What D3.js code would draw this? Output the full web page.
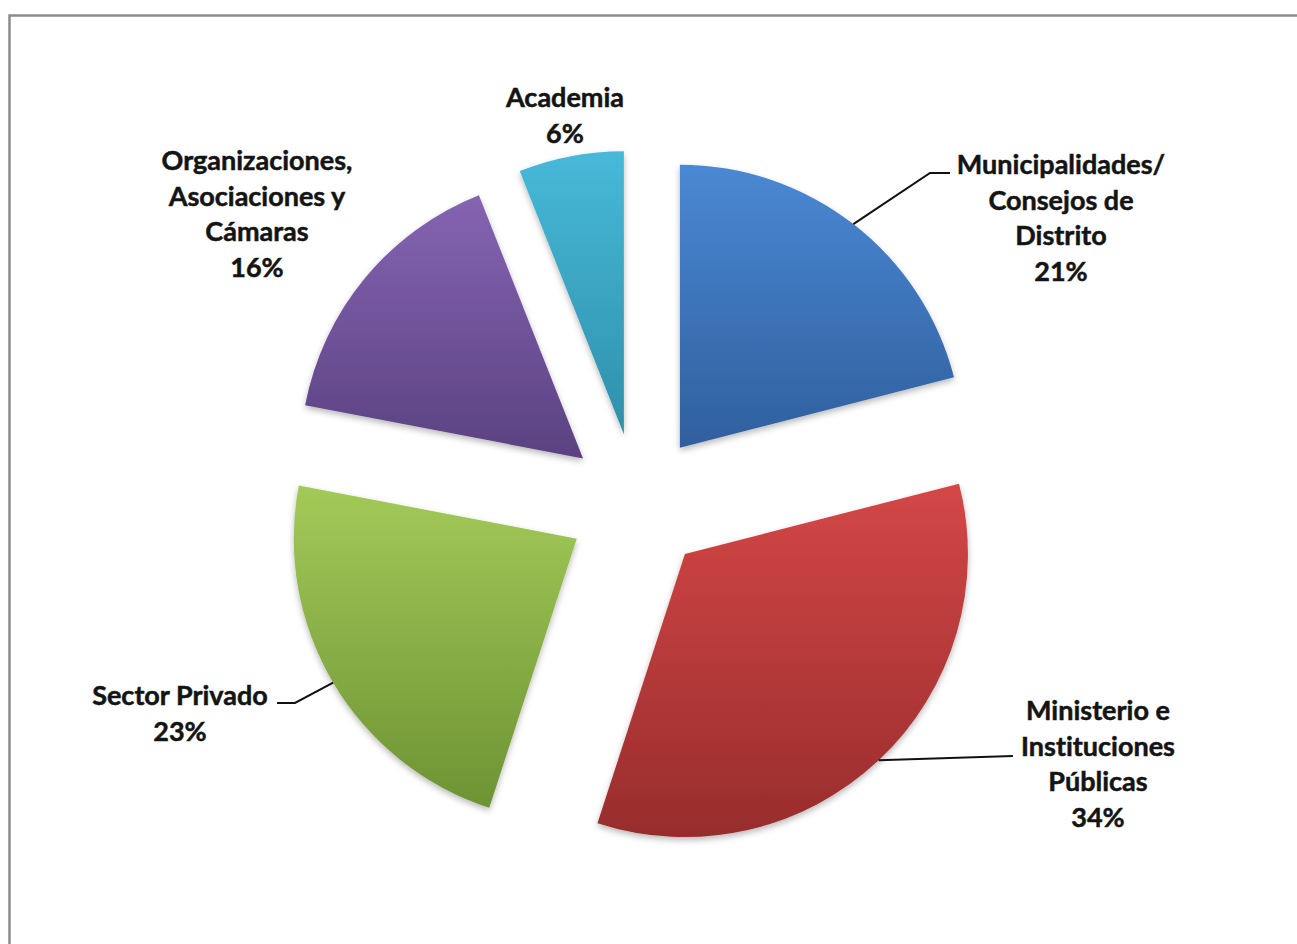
<!DOCTYPE html>
<html>
<head>
<meta charset="utf-8">
<script src="https://cdn.jsdelivr.net/npm/d3@7"></script>
<style>
  html, body { margin: 0; padding: 0; background: #fff; overflow: hidden; }
  svg { display: block; }
  text { font-family: Lato, "Open Sans", sans-serif; font-weight: 700; fill: #141414;
         stroke: #141414; stroke-width: 0.5px; font-variant-ligatures: none; font-feature-settings: "liga" 0, "clig" 0; }
</style>
</head>
<body>
<svg id="chart" width="1297" height="944"></svg>
<script>
// ---- data ----
const categories = [
  "Municipalidades/ Consejos de Distrito",
  "Ministerio e Instituciones Públicas",
  "Sector Privado",
  "Organizaciones, Asociaciones y Cámaras",
  "Academia"
];
const values = [21, 34, 23, 16, 6];
const labelLines = [
  ["Municipalidades/", "Consejos de", "Distrito"],
  ["Ministerio e", "Instituciones", "Públicas"],
  ["Sector Privado"],
  ["Organizaciones,", "Asociaciones y", "Cámaras"],
  ["Academia"]
];
const percentLabels = ["21%", "34%", "23%", "16%", "6%"];

// ---- styles / layout ----
const colorsTop = ["#4b88d4", "#d44747", "#a3ca58", "#8564b2", "#47b9d9"];
const colorsBottom = ["#2f5f9d", "#982c2c", "#6d9334", "#5a4281", "#2e90aa"];
const cx = 637, cy = 503, radius = 283, explode = 70;
const lineGap = 35.5;
// label anchor (center x, first baseline) and leader elbow points
const labelLayout = [
  { x: 1061, y: 174, leader: [[930, 173], [950, 173]] },
  { x: 1098, y: 720, leader: [[1013, 756]] },
  { x: 180,  y: 705, leader: [[295, 703], [277, 703]] },
  { x: 257,  y: 170, leader: null },
  { x: 565,  y: 107, leader: null }
];

const svg = d3.select("#chart");

// frame
svg.append("rect")
  .attr("x", 9.5).attr("y", 15.5)
  .attr("width", 1400).attr("height", 1000)
  .attr("fill", "none")
  .attr("stroke", "#8c8c8c")
  .attr("stroke-width", 2.5);

const defs = svg.append("defs");
const shadow = defs.append("filter").attr("id", "shadow")
  .attr("x", "-10%").attr("y", "-10%").attr("width", "120%").attr("height", "125%");
shadow.append("feDropShadow")
  .attr("dx", 0).attr("dy", 3).attr("stdDeviation", 3)
  .attr("flood-color", "#000").attr("flood-opacity", 0.28);

categories.forEach((c, i) => {
  const g = defs.append("linearGradient").attr("id", "grad" + i)
    .attr("x1", 0).attr("y1", 0).attr("x2", 0).attr("y2", 1);
  g.append("stop").attr("offset", "0%").attr("stop-color", colorsTop[i]);
  g.append("stop").attr("offset", "100%").attr("stop-color", colorsBottom[i]);
});

const pie = d3.pie().sort(null).value(d => d)
  .startAngle(0).endAngle(2 * Math.PI);
const arcs = pie(values);
const arc = d3.arc().innerRadius(0).outerRadius(radius);

function offsetOf(d) {
  const mid = (d.startAngle + d.endAngle) / 2;
  return [explode * Math.sin(mid), -explode * Math.cos(mid)];
}

const slices = svg.append("g").attr("transform", `translate(${cx},${cy})`);
slices.selectAll("path.slice")
  .data(arcs)
  .enter().append("path")
  .attr("class", "slice")
  .attr("d", arc)
  .attr("transform", d => { const o = offsetOf(d); return `translate(${o[0]},${o[1]})`; })
  .attr("fill", (d, i) => `url(#grad${i})`)
  .attr("filter", "url(#shadow)");

// leader lines
arcs.forEach((d, i) => {
  const L = labelLayout[i];
  if (!L.leader) return;
  const mid = (d.startAngle + d.endAngle) / 2;
  const o = offsetOf(d);
  const start = [cx + o[0] + radius * Math.sin(mid), cy + o[1] - radius * Math.cos(mid)];
  const pts = [start].concat(L.leader);
  svg.append("path")
    .attr("d", d3.line()(pts))
    .attr("fill", "none")
    .attr("stroke", "#111")
    .attr("stroke-width", 2);
});

// labels
arcs.forEach((d, i) => {
  const L = labelLayout[i];
  const lines = labelLines[i].concat([percentLabels[i]]);
  const t = svg.append("text")
    .attr("text-anchor", "middle")
    .attr("font-size", 27);
  lines.forEach((ln, k) => {
    t.append("tspan").attr("x", L.x).attr("y", L.y + k * lineGap).text(ln);
  });
});
</script>
</body>
</html>
